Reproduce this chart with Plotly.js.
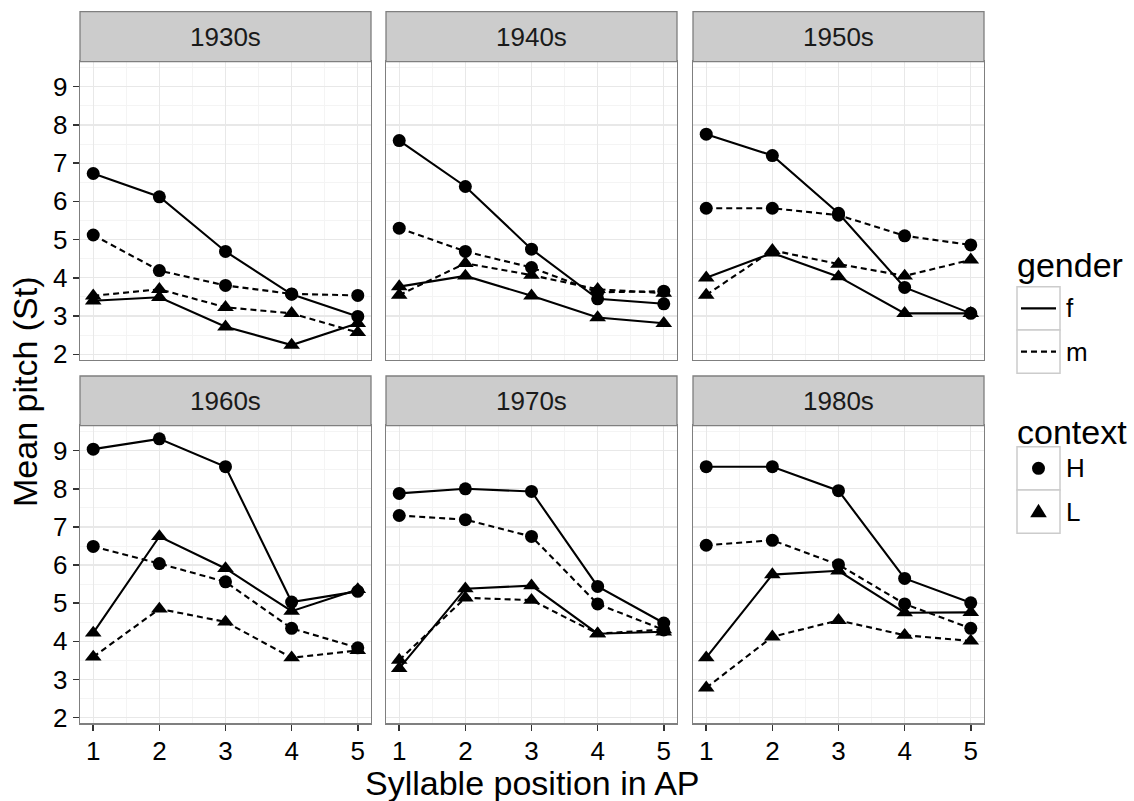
<!DOCTYPE html>
<html><head><meta charset="utf-8">
<script src="https://cdn.plot.ly/plotly-3.0.1.min.js"></script>
<style>html,body{margin:0;padding:0;background:#fff}#chart{width:1134px;height:801px}</style>
</head><body><div id="chart"></div>
<script>
// ---- data ----
const positions = [1, 2, 3, 4, 5];
const decades = ['1930s', '1940s', '1950s', '1960s', '1970s', '1980s'];
const xTickLabels = ['1', '2', '3', '4', '5'];
const yTickValues = [2, 3, 4, 5, 6, 7, 8, 9];
const genders = ['f', 'm'];
const contexts = ['H', 'L'];
// gender f, context H (one row per decade)
const f_H = [
  [6.73, 6.12, 4.69, 3.57, 2.99],
  [7.59, 6.39, 4.75, 3.45, 3.32],
  [7.76, 7.20, 5.69, 3.75, 3.07],
  [9.04, 9.31, 8.58, 5.03, 5.31],
  [7.88, 8.00, 7.93, 5.44, 4.48],
  [8.58, 8.58, 7.95, 5.65, 5.01]
];
// gender f, context L
const f_L = [
  [3.40, 3.49, 2.72, 2.24, 2.81],
  [3.77, 4.05, 3.53, 2.96, 2.81],
  [4.00, 4.65, 4.03, 3.07, 3.07],
  [4.22, 6.75, 5.91, 4.79, 5.36],
  [3.29, 5.38, 5.46, 4.20, 4.25],
  [3.57, 5.75, 5.85, 4.75, 4.76]
];
// gender m, context H
const m_H = [
  [5.12, 4.19, 3.80, 3.58, 3.54],
  [5.30, 4.69, 4.27, 3.62, 3.65],
  [5.82, 5.82, 5.64, 5.10, 4.86],
  [6.49, 6.04, 5.56, 4.34, 3.83],
  [7.30, 7.19, 6.75, 4.98, 4.30],
  [6.52, 6.65, 6.01, 4.98, 4.34]
];
// gender m, context L
const m_L = [
  [3.53, 3.70, 3.23, 3.07, 2.57],
  [3.55, 4.38, 4.07, 3.70, 3.60],
  [3.55, 4.72, 4.36, 4.05, 4.47],
  [3.59, 4.85, 4.51, 3.57, 3.76],
  [3.51, 5.14, 5.08, 4.20, 4.31],
  [2.78, 4.12, 4.55, 4.16, 4.01]
];

// ---- styling / layout ----
const W = 1134, H = 801;
const PX = v => v / W, PY = v => 1 - v / H;
const FONT = 'Liberation Sans, Arial, Helvetica, sans-serif';
const colX = [[80, 371], [386, 677], [693, 984]];
const rowY = [[61.7, 360], [425.7, 723.3]];
const stripY = [[11.7, 61.7], [376, 425.7]];
const DASH = '6px,4px';
const series = [
  { vals: f_H, dash: 'solid', symbol: 'circle', size: 13 },
  { vals: f_L, dash: 'solid', symbol: 'triangle-up', size: 14.5 },
  { vals: m_H, dash: DASH, symbol: 'circle', size: 13 },
  { vals: m_L, dash: DASH, symbol: 'triangle-up', size: 14.5 }
];

const traces = [];
const layout = {
  width: W, height: H,
  margin: { l: 0, r: 0, t: 0, b: 0 },
  paper_bgcolor: '#fff', plot_bgcolor: '#fff',
  showlegend: false,
  font: { family: FONT, color: '#000' },
  shapes: [], annotations: []
};

decades.forEach((dec, i) => {
  const r = Math.floor(i / 3), c = i % 3;
  const sfx = i === 0 ? '' : String(i + 1);
  series.forEach(s => {
    traces.push({
      type: 'scatter', mode: 'lines+markers',
      x: positions, y: s.vals[i],
      xaxis: 'x' + sfx, yaxis: 'y' + sfx,
      line: { color: '#000', width: 2.1, dash: s.dash },
      marker: { color: '#000', symbol: s.symbol, size: s.size, line: { width: 0 } },
      hoverinfo: 'x+y', cliponaxis: false
    });
  });
  const isLeft = c === 0, isBottom = r === 1;
  layout['xaxis' + sfx] = {
    domain: [PX(colX[c][0]), PX(colX[c][1])],
    anchor: 'y' + sfx,
    range: [0.8, 5.2],
    tickvals: positions, ticktext: xTickLabels,
    showticklabels: isBottom,
    ticks: isBottom ? 'outside' : '', ticklen: 6, tickwidth: 1.5, tickcolor: '#333',
    ticklabelstandoff: -2,
    tickfont: { size: 26, color: '#000', family: FONT },
    showgrid: true, gridcolor: '#E8E8E8', gridwidth: 1.2,
    minor: { dtick: 0.5, tick0: 0, showgrid: true, gridcolor: '#F4F4F4', gridwidth: 1 },
    zeroline: false, showline: true, mirror: true, linecolor: '#7F7F7F', linewidth: 1.3,
    fixedrange: true
  };
  layout['yaxis' + sfx] = {
    domain: [PY(rowY[r][1]), PY(rowY[r][0])],
    anchor: 'x' + sfx,
    range: [1.85, 9.655],
    tickvals: yTickValues,
    showticklabels: isLeft,
    ticks: isLeft ? 'outside' : '', ticklen: 6, tickwidth: 1.5, tickcolor: '#333',
    tickfont: { size: 26, color: '#000', family: FONT },
    showgrid: true, gridcolor: '#E8E8E8', gridwidth: 1.2,
    minor: { dtick: 0.5, tick0: 0, showgrid: true, gridcolor: '#F4F4F4', gridwidth: 1 },
    zeroline: false, showline: true, mirror: true, linecolor: '#7F7F7F', linewidth: 1.3,
    fixedrange: true
  };
  // strip
  layout.shapes.push({
    type: 'rect', xref: 'paper', yref: 'paper', layer: 'above',
    x0: PX(colX[c][0]), x1: PX(colX[c][1]), y0: PY(stripY[r][1]), y1: PY(stripY[r][0]),
    fillcolor: '#CCCCCC', line: { color: '#7F7F7F', width: 1.3 }
  });
  layout.annotations.push({
    xref: 'paper', yref: 'paper', showarrow: false,
    x: PX((colX[c][0] + colX[c][1]) / 2), y: PY((stripY[r][0] + stripY[r][1]) / 2 + 0.5),
    xanchor: 'center', yanchor: 'middle',
    text: dec, font: { size: 26, color: '#1A1A1A', family: FONT }
  });
});

// axis titles
layout.annotations.push({
  xref: 'paper', yref: 'paper', showarrow: false,
  x: PX(532), y: PY(783), xanchor: 'center', yanchor: 'middle',
  text: 'Syllable position in AP', font: { size: 34, color: '#000', family: FONT }
});
layout.annotations.push({
  xref: 'paper', yref: 'paper', showarrow: false, textangle: -90,
  x: PX(25), y: PY(392), xanchor: 'center', yanchor: 'middle',
  text: 'Mean pitch (St)', font: { size: 34, color: '#000', family: FONT }
});

// legends (ggplot-style keys)
function legendBlock(title, labels, topTitle, keyTop, drawKey) {
  layout.annotations.push({
    xref: 'paper', yref: 'paper', showarrow: false,
    x: PX(1015), y: PY(topTitle), xanchor: 'left', yanchor: 'middle',
    text: title, font: { size: 34, color: '#000', family: FONT }
  });
  labels.forEach((lab, k) => {
    const y0 = keyTop + k * 43.3, y1 = y0 + 43.3;
    layout.shapes.push({
      type: 'rect', xref: 'paper', yref: 'paper',
      x0: PX(1017), x1: PX(1060), y0: PY(y1), y1: PY(y0),
      fillcolor: '#fff', line: { color: '#CCCCCC', width: 1.5 }
    });
    drawKey(k, (y0 + y1) / 2);
    layout.annotations.push({
      xref: 'paper', yref: 'paper', showarrow: false,
      x: PX(1064), y: PY((y0 + y1) / 2), xanchor: 'left', yanchor: 'middle',
      text: lab, font: { size: 26, color: '#000', family: FONT }
    });
  });
}
legendBlock('gender', genders, 265, 286.7, (k, yc) => {
  layout.shapes.push({
    type: 'line', xref: 'paper', yref: 'paper',
    x0: PX(1021), x1: PX(1056), y0: PY(yc), y1: PY(yc),
    line: { color: '#000', width: 2.1, dash: k === 0 ? 'solid' : DASH }
  });
});
legendBlock('context', contexts, 432, 446.7, (k, yc) => {
  if (k === 0) {
    layout.shapes.push({
      type: 'circle', xref: 'paper', yref: 'paper',
      x0: PX(1038.5 - 6.5), x1: PX(1038.5 + 6.5), y0: PY(yc + 6.5), y1: PY(yc - 6.5),
      fillcolor: '#000', line: { width: 0 }
    });
  } else {
    const cx = 1038.5;
    const p = (x, y) => PX(x) + ',' + PY(y);
    layout.shapes.push({
      type: 'path', xref: 'paper', yref: 'paper',
      path: 'M' + p(cx - 8.3, yc + 5.5) + ' L' + p(cx + 8.3, yc + 5.5) + ' L' + p(cx, yc - 8) + ' Z',
      fillcolor: '#000', line: { width: 0 }
    });
  }
});

Plotly.newPlot('chart', traces, layout, { staticPlot: true, displayModeBar: false });
</script>
</body></html>
